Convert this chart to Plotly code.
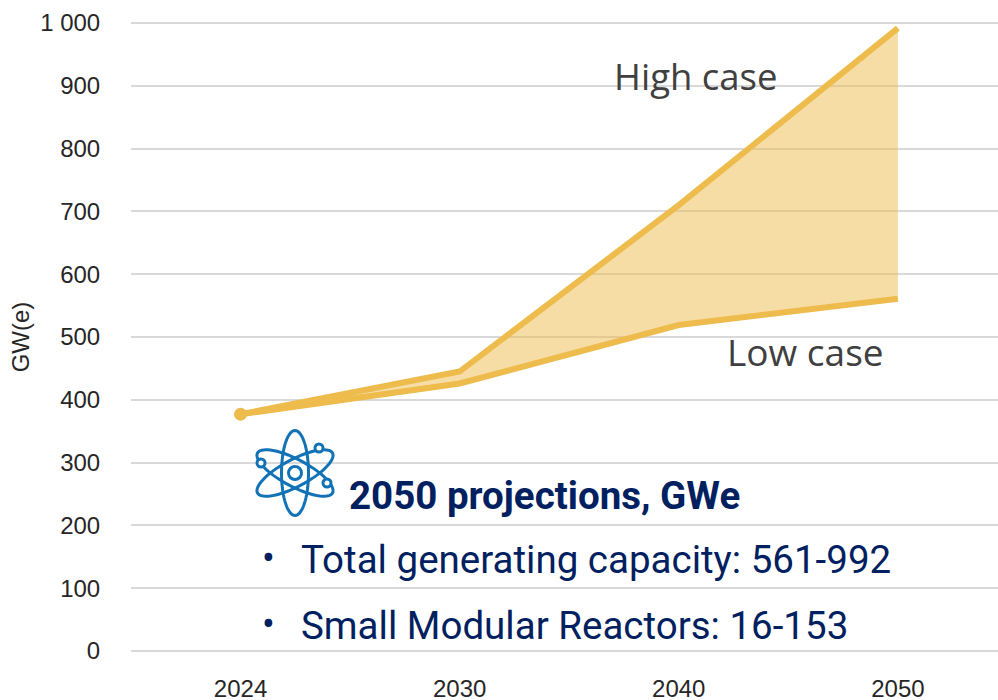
import math
import plotly.graph_objects as go

years = ["2024", "2030", "2040", "2050"]
high_case = [377, 445, 710, 992]
low_case = [377, 426, 519, 561]
y_ticks = [0, 100, 200, 300, 400, 500, 600, 700, 800, 900, 1000]
y_labels = ["0", "100", "200", "300", "400", "500", "600", "700", "800", "900", "1 000"]
heading = "2050 projections, GWe"
bullet_lines = ["Total generating capacity: 561-992", "Small Modular Reactors: 16-153"]

W, H = 998, 700
L, R, T, B = 131, 0, 18, 44
GOLD = "#EEBB4D"
NAVY = "#002060"
BLUE = "#1272B6"


def px(x):
    return (x - L) / (W - L - R)


def py(y):
    return (H - B - y) / (H - T - B)


def ellipse(cx, cy, rx, ry, deg, n=72):
    a = math.radians(deg)
    pts = []
    for i in range(n):
        t = 2 * math.pi * i / n
        x0, y0 = rx * math.cos(t), ry * math.sin(t)
        x = cx + x0 * math.cos(a) - y0 * math.sin(a)
        y = cy + x0 * math.sin(a) + y0 * math.cos(a)
        pts.append(f"{px(x):.5f},{py(y):.5f}")
    return "M" + " L".join(pts) + " Z"


def circle(cx, cy, r, fill):
    return dict(type="circle", xref="paper", yref="paper",
                x0=px(cx - r), x1=px(cx + r), y0=py(cy + r), y1=py(cy - r),
                line=dict(color=BLUE, width=3), fillcolor=fill, layer="above")


shapes = [dict(type="path", xref="paper", yref="paper", path=ellipse(295, 473, 13.5, 42.5, d),
               line=dict(color=BLUE, width=3), layer="above") for d in (0, 62, -62)]
shapes += [circle(295, 473, 6.5, "rgba(0,0,0,0)"), circle(319, 448, 4, "white"),
           circle(261, 463, 4, "white"), circle(327, 483, 4, "white")]

fig = go.Figure()
fig.add_trace(go.Scatter(x=years, y=low_case, mode="lines", line=dict(color=GOLD, width=6),
                         hoverinfo="skip"))
fig.add_trace(go.Scatter(x=years, y=high_case, mode="lines", line=dict(color=GOLD, width=6),
                         fill="tonexty", fillcolor="rgba(238,187,77,0.5)", hoverinfo="skip"))
fig.add_trace(go.Scatter(x=years[:1], y=high_case[:1], mode="markers",
                         marker=dict(color=GOLD, size=13), hoverinfo="skip"))


def note(text, x, y, size, color, font="Open Sans", anchor="left"):
    return dict(text=text, x=px(x), y=py(y), xref="paper", yref="paper", showarrow=False,
                xanchor=anchor, yanchor="middle", borderpad=0, font=dict(family=font, size=size, color=color))


annotations = [
    note("High case", 613, 76, 36.5, "#404040"),
    note("Low case", 726, 351, 37, "#404040"),
    note(f"<b>{heading}</b>", 348, 495, 38.5, NAVY, "Roboto"),
    note("•", 268, 558, 38, NAVY, "Roboto", "center"),
    note(bullet_lines[0], 300, 559, 38.5, NAVY, "Roboto"),
    note("•", 268, 624, 38, NAVY, "Roboto", "center"),
    note(bullet_lines[1], 300, 625, 38.5, NAVY, "Roboto"),
]

fig.update_layout(
    width=W, height=H, autosize=False,
    margin=dict(l=L, r=R, t=T, b=B, pad=0),
    paper_bgcolor="white", plot_bgcolor="white", showlegend=False,
    font=dict(family="Liberation Sans", color="#262626"),
    shapes=shapes, annotations=annotations,
    xaxis=dict(type="category", categoryorder="array", categoryarray=years,
               range=[-0.5, 3.457], showgrid=False, zeroline=False, showline=False,
               ticks="outside", ticklen=11, tickcolor="rgba(0,0,0,0)",
               tickfont=dict(size=24, family="Liberation Sans", color="#262626")),
    yaxis=dict(range=[-8, 1008], tickmode="array", tickvals=y_ticks, ticktext=y_labels,
               showgrid=True, gridcolor="#D9D9D9", gridwidth=2, zeroline=False, showline=False,
               ticks="outside", ticklen=25, tickcolor="rgba(0,0,0,0)",
               tickfont=dict(size=24, family="Liberation Sans", color="#262626"),
               title=dict(text="GW(e)", standoff=3, font=dict(size=24, family="Liberation Sans", color="#262626")),
               automargin=False, layer="below traces"),
)
fig.update_xaxes(automargin=False)
fig.write_html("out.html", config=dict(displayModeBar=False),
               post_script="document.body.style.margin='0';window.dispatchEvent(new Event('resize'));")
